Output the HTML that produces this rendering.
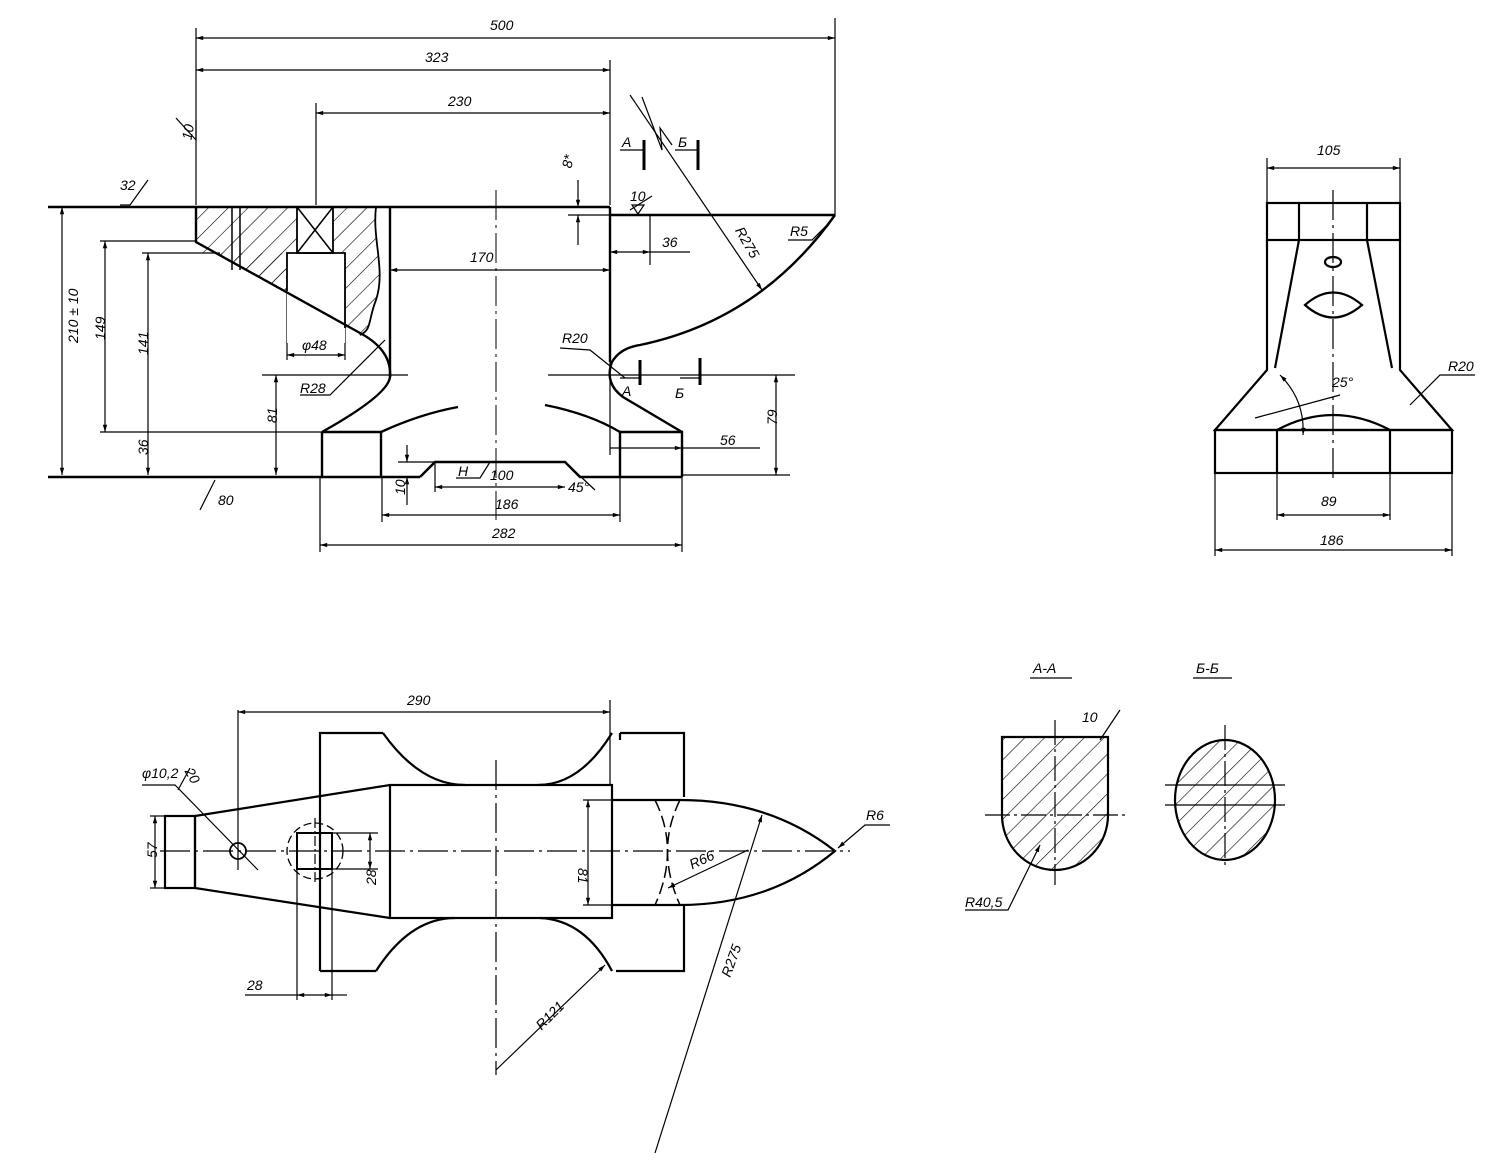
<!DOCTYPE html>
<html><head><meta charset="utf-8"><style>
html,body{margin:0;padding:0;background:#fff}
svg{display:block}
text{font-family:"Liberation Sans",sans-serif;font-style:italic;font-size:14px;fill:#000}
</style></head><body>
<svg width="1500" height="1163" viewBox="0 0 1500 1163" xmlns="http://www.w3.org/2000/svg">
<defs>
<pattern id="h" patternUnits="userSpaceOnUse" width="14" height="14" patternTransform="rotate(45)">
<line x1="0" y1="0" x2="0" y2="14" stroke="#000" stroke-width="1.2"/></pattern>
<marker id="a" viewBox="0 0 10 10" refX="10" refY="5" markerWidth="10" markerHeight="6" orient="auto-start-reverse"><path d="M0,2 L10,5 L0,8z" fill="#000"/></marker>
</defs>
<g fill="none" stroke="#000" stroke-width="1.2">
<!-- dimension lines front -->
<line x1="196" y1="38" x2="835" y2="38" marker-start="url(#a)" marker-end="url(#a)"/>
<line x1="196" y1="70" x2="610" y2="70" marker-start="url(#a)" marker-end="url(#a)"/>
<line x1="316" y1="113" x2="610" y2="113" marker-start="url(#a)" marker-end="url(#a)"/>
<line x1="196" y1="28" x2="196" y2="205"/><line x1="835" y1="18" x2="835" y2="215"/>
<line x1="610" y1="60" x2="610" y2="205"/><line x1="316" y1="103" x2="316" y2="205"/>
<line x1="390" y1="270" x2="610" y2="270" marker-start="url(#a)" marker-end="url(#a)"/>
<line x1="62" y1="207" x2="62" y2="475" marker-start="url(#a)" marker-end="url(#a)"/>
<line x1="105" y1="241" x2="105" y2="432" marker-start="url(#a)" marker-end="url(#a)"/>
<line x1="148" y1="253" x2="148" y2="475" marker-start="url(#a)" marker-end="url(#a)"/>
<line x1="100" y1="241" x2="196" y2="241"/><line x1="142" y1="253" x2="220" y2="253"/>
<line x1="100" y1="432" x2="322" y2="432"/>
<line x1="276" y1="375" x2="276" y2="475" marker-start="url(#a)" marker-end="url(#a)"/>
<line x1="262" y1="375" x2="408" y2="375"/>
<line x1="776" y1="375" x2="776" y2="475" marker-start="url(#a)" marker-end="url(#a)"/>
<line x1="548" y1="375" x2="795" y2="375"/><line x1="682" y1="475" x2="790" y2="475"/>
<line x1="610" y1="448" x2="682" y2="448" marker-end="url(#a)"/><line x1="682" y1="448" x2="760" y2="448"/>
<line x1="578" y1="180" x2="578" y2="207" marker-end="url(#a)"/><line x1="578" y1="245" x2="578" y2="215" marker-end="url(#a)"/>
<line x1="568" y1="215" x2="610" y2="215"/>
<line x1="650" y1="215" x2="650" y2="265"/><line x1="610" y1="252" x2="650" y2="252" marker-start="url(#a)" marker-end="url(#a)"/><line x1="650" y1="252" x2="690" y2="252"/>
<line x1="382" y1="515" x2="620" y2="515" marker-start="url(#a)" marker-end="url(#a)"/>
<line x1="320" y1="545" x2="682" y2="545" marker-start="url(#a)" marker-end="url(#a)"/>
<line x1="320" y1="477" x2="320" y2="552"/><line x1="682" y1="477" x2="682" y2="552"/>
<line x1="382" y1="477" x2="382" y2="522"/><line x1="620" y1="477" x2="620" y2="522"/>
<line x1="435" y1="487" x2="565" y2="487" marker-start="url(#a)" marker-end="url(#a)"/>
<line x1="435" y1="462" x2="435" y2="492"/>
<line x1="407" y1="445" x2="407" y2="462" marker-end="url(#a)"/><line x1="407" y1="505" x2="407" y2="477" marker-end="url(#a)"/>
<line x1="398" y1="462" x2="435" y2="462"/>
<line x1="287" y1="355" x2="345" y2="355" marker-start="url(#a)" marker-end="url(#a)"/>
<line x1="287" y1="253" x2="287" y2="360"/><line x1="345" y1="253" x2="345" y2="360"/>
<!-- leaders -->
<polyline points="120,205 130,205 148,180"/><polyline points="176,118 196,140 196,120"/>
<polyline points="200,510 215,480"/>
<polyline points="300,395 330,395 385,340" /><polyline points="560,348 590,350 625,378"/>
<polyline points="630,95 762,290" marker-end="url(#a)"/>
<polyline points="788,240 812,240 832,220"/>
<polyline points="630,210 652,196"/><path d="M632,205 L644,205 L638,214Z"/>
<polyline points="456,478 480,478 490,462"/>
<polyline points="565,462 595,490"/>
<!-- section marks -->
<polyline points="620,150 644,150"/><line x1="644" y1="140" x2="644" y2="170" stroke-width="3"/>
<polyline points="675,150 698,150"/><line x1="698" y1="140" x2="698" y2="170" stroke-width="3"/>
<polyline points="642,97 662,150 660,128 672,145"/>
<line x1="640" y1="360" x2="640" y2="385" stroke-width="3"/><line x1="620" y1="378" x2="640" y2="378"/>
<line x1="700" y1="358" x2="700" y2="385" stroke-width="3"/><line x1="680" y1="378" x2="700" y2="378"/>
</g>
<!-- front view body -->
<g fill="none" stroke="#000" stroke-width="2.4">
<path d="M196,207 L376,207 C372,240 386,270 376,300 C368,320 372,330 360,335 L196,242Z" fill="url(#h)" stroke="none"/>
<rect x="297" y="207" width="36" height="46" fill="#fff" stroke="none"/>
<rect x="287" y="253" width="58" height="90" fill="#fff" stroke="none"/>
<polygon points="196,242 287,291 287,253 196,253" fill="url(#h)" stroke="none"/>
<line x1="48" y1="207" x2="610" y2="207"/>
<line x1="610" y1="215" x2="835" y2="215"/>
<line x1="48" y1="477" x2="420" y2="477"/>
<polyline points="420,477 435,462 565,462 580,477 682,477"/>
<polyline points="196,207 196,242 360,333"/>
<path d="M360,333 Q392,350 390,377 Q388,395 322,432"/>
<line x1="390" y1="207" x2="390" y2="377"/>
<path d="M376,207 C372,240 386,270 376,300 C368,320 372,330 360,335" stroke-width="1.8"/>
<line x1="232" y1="207" x2="232" y2="270" stroke-width="1.5"/><line x1="240" y1="207" x2="240" y2="270" stroke-width="1.5"/>
<rect x="297" y="207" width="36" height="46" stroke-width="1.8"/>
<line x1="297" y1="207" x2="333" y2="253" stroke-width="1.5"/><line x1="333" y1="207" x2="297" y2="253" stroke-width="1.5"/>
<polyline points="287,291 287,253 345,253 345,328" stroke-width="1.8"/>
<polyline points="322,432 322,477"/><polyline points="322,432 381,432 381,477"/>
<path d="M381,432 Q420,414 458,407"/>
<path d="M545,405 Q590,414 620,432"/>
<line x1="610" y1="207" x2="610" y2="362"/>
<line x1="610" y1="362" x2="610" y2="455" stroke-width="1.2"/>
<polyline points="620,477 620,432 682,432 682,477"/>
<path d="M682,432 L623,397 Q604,383 612,362 Q620,348 640,345 Q760,320 835,215"/>
<line x1="496" y1="190" x2="496" y2="520" stroke-width="1" stroke-dasharray="30,5,3,5"/>
</g>
<!-- side view -->
<g fill="none" stroke="#000" stroke-width="2.2">
<rect x="1267" y="203" width="133" height="37"/>
<line x1="1299" y1="203" x2="1299" y2="240"/><line x1="1367" y1="203" x2="1367" y2="240"/>
<polyline points="1267,240 1267,370 1215,430 1452,430 1400,370 1400,240"/>
<line x1="1299" y1="240" x2="1275" y2="368"/><line x1="1367" y1="240" x2="1392" y2="368"/>
<rect x="1215" y="430" width="237" height="43"/>
<line x1="1277" y1="430" x2="1277" y2="473"/><line x1="1390" y1="430" x2="1390" y2="473"/>
<path d="M1277,430 Q1333,400 1390,430"/>
<ellipse cx="1333" cy="262" rx="8" ry="5"/>
<path d="M1305,305 Q1333,280 1362,305 Q1333,330 1305,305Z"/>
<g stroke-width="1.2">
<line x1="1333" y1="190" x2="1333" y2="480" stroke-dasharray="30,5,3,5"/>
<line x1="1267" y1="168" x2="1400" y2="168" marker-start="url(#a)" marker-end="url(#a)"/>
<line x1="1267" y1="158" x2="1267" y2="203"/><line x1="1400" y1="158" x2="1400" y2="203"/>
<line x1="1277" y1="515" x2="1390" y2="515" marker-start="url(#a)" marker-end="url(#a)"/>
<line x1="1215" y1="550" x2="1452" y2="550" marker-start="url(#a)" marker-end="url(#a)"/>
<line x1="1215" y1="473" x2="1215" y2="556"/><line x1="1452" y1="473" x2="1452" y2="556"/>
<line x1="1277" y1="473" x2="1277" y2="520"/><line x1="1390" y1="473" x2="1390" y2="520"/>
<path d="M1280,375 Q1305,400 1303,435" marker-start="url(#a)" marker-end="url(#a)"/>
<line x1="1255" y1="418" x2="1340" y2="395"/>
<polyline points="1410,405 1440,375 1475,375"/>
</g>
</g>
<!-- bottom view -->
<g fill="none" stroke="#000" stroke-width="2.2">
<polyline points="320,971 320,733 383,733"/><path d="M383,733 Q420,785 465,785"/>
<path d="M538,785 Q580,785 612,733"/><polyline points="620,733 684,733 684,797"/>
<line x1="620" y1="733" x2="620" y2="740"/>
<rect x="390" y="785" width="222" height="133"/>
<polyline points="390,785 195,816 195,888 390,918"/>
<rect x="165" y="816" width="30" height="72"/>
<polyline points="320,971 376,971"/><path d="M376,971 Q410,918 455,918"/>
<path d="M540,918 Q585,920 612,971"/><polyline points="616,971 684,971 684,905"/>
<polyline points="612,800 680,800"/><polyline points="612,905 680,905"/>
<path d="M680,800 Q770,800 835,851 Q770,905 680,905"/>
<path d="M680,800 Q655,850 680,905" stroke-dasharray="12,5" stroke-width="1.5"/>
<path d="M655,800 Q680,850 655,905" stroke-dasharray="12,5" stroke-width="1.5"/>
<rect x="297" y="833" width="35" height="36" stroke-width="2"/>
<circle cx="315" cy="851" r="28" stroke-dasharray="8,4" stroke-width="1.3"/>
<circle cx="238" cy="851" r="8" stroke-width="1.8"/>
<g stroke-width="1.2">
<line x1="160" y1="851" x2="850" y2="851" stroke-dasharray="30,5,3,5"/>
<line x1="496" y1="760" x2="496" y2="1075" stroke-dasharray="30,5,3,5"/>
<line x1="315" y1="818" x2="315" y2="885" stroke-dasharray="10,3,2,3"/>
<line x1="238" y1="710" x2="238" y2="870"/><line x1="610" y1="700" x2="610" y2="785"/>
<line x1="238" y1="712" x2="610" y2="712" marker-start="url(#a)" marker-end="url(#a)"/>
<line x1="155" y1="816" x2="155" y2="888" marker-start="url(#a)" marker-end="url(#a)"/>
<line x1="150" y1="816" x2="165" y2="816"/><line x1="150" y1="888" x2="165" y2="888"/>
<line x1="370" y1="833" x2="370" y2="869" marker-start="url(#a)" marker-end="url(#a)"/>
<line x1="332" y1="833" x2="378" y2="833"/><line x1="332" y1="869" x2="378" y2="869"/>
<line x1="297" y1="869" x2="297" y2="1000"/><line x1="332" y1="869" x2="332" y2="1000"/>
<line x1="245" y1="995" x2="297" y2="995"/><line x1="297" y1="995" x2="332" y2="995" marker-start="url(#a)" marker-end="url(#a)"/><line x1="332" y1="995" x2="347" y2="995"/>
<line x1="588" y1="800" x2="588" y2="905" marker-start="url(#a)" marker-end="url(#a)"/>
<line x1="583" y1="800" x2="612" y2="800"/><line x1="583" y1="905" x2="612" y2="905"/>
<line x1="748" y1="850" x2="668" y2="888" marker-end="url(#a)"/>
<line x1="655" y1="1153" x2="762" y2="815" marker-end="url(#a)"/>
<line x1="496" y1="1070" x2="605" y2="965" marker-end="url(#a)"/>
<polyline points="890,825 865,825 838,848" marker-end="url(#a)"/>
<polyline points="142,785 175,785 258,870"/><polyline points="190,768 178,790"/>
</g>
</g>
<!-- sections -->
<g fill="none" stroke="#000" stroke-width="2.2">
<path d="M1002,737 L1108,737 L1108,815 A53,55 0 0 1 1002,815Z" fill="url(#h)"/>
<ellipse cx="1225" cy="800" rx="50" ry="60" fill="url(#h)"/>
<g stroke-width="1.2">
<line x1="1055" y1="720" x2="1055" y2="885" stroke-dasharray="25,4,3,4"/>
<line x1="985" y1="815" x2="1125" y2="815" stroke-dasharray="25,4,3,4"/>
<line x1="1225" y1="725" x2="1225" y2="865" stroke-dasharray="25,4,3,4"/>
<line x1="1165" y1="785" x2="1285" y2="785"/><line x1="1165" y1="805" x2="1285" y2="805"/>
<polyline points="965,910 1008,910 1040,845" marker-end="url(#a)"/>
<polyline points="1120,710 1100,740"/>
<line x1="1030" y1="678" x2="1072" y2="678"/><line x1="1193" y1="678" x2="1232" y2="678"/>
</g>
</g>
<!-- labels -->
<text x="490" y="30">500</text><text x="425" y="62">323</text><text x="448" y="106">230</text>
<text x="470" y="262">170</text><text x="120" y="190">32</text><text x="170" y="145" transform="rotate(-80 178 130)">10</text>
<text x="55" y="360" transform="rotate(-90 58 340)">210 ± 10</text>
<text x="100" y="345" transform="rotate(-90 100 340)">149</text>
<text x="143" y="360" transform="rotate(-90 143 355)">141</text>
<text x="143" y="460" transform="rotate(-90 143 455)">36</text>
<text x="272" y="428" transform="rotate(-90 272 423)">81</text>
<text x="772" y="430" transform="rotate(-90 772 425)">79</text>
<text x="302" y="350">φ48</text><text x="300" y="393">R28</text><text x="562" y="343">R20</text>
<text x="560" y="165" transform="rotate(-80 568 160)">8*</text>
<text x="630" y="201" font-size="12">10</text><text x="662" y="247" font-size="11">36</text>
<text x="728" y="238" transform="rotate(60 738 240)">R275</text><text x="790" y="236" font-size="12">R5</text>
<text x="720" y="445">56</text><text x="458" y="476">H</text><text x="490" y="480">100</text>
<text x="568" y="492" font-size="10">45°</text><text x="495" y="509">186</text><text x="492" y="538">282</text>
<text x="218" y="505">80</text><text x="400" y="500" transform="rotate(-90 400 495)">10</text>
<text x="622" y="147">A</text><text x="678" y="147">Б</text><text x="622" y="396">A</text><text x="675" y="398">Б</text>
<text x="1317" y="155">105</text><text x="1332" y="387">25°</text><text x="1448" y="371">R20</text>
<text x="1321" y="506">89</text><text x="1320" y="545">186</text>
<text x="407" y="705">290</text><text x="142" y="778">φ10,2</text><text x="184" y="778" transform="rotate(60 190 775)">20</text>
<text x="150" y="865" transform="rotate(-90 150 858)">57</text>
<text x="368" y="893" transform="rotate(-90 368 885)">28</text><text x="247" y="990">28</text>
<text x="585" y="875" transform="rotate(90 585 868)">81</text>
<text x="690" y="870" transform="rotate(-25 690 865)">R66</text>
<text x="700" y="985" transform="rotate(-70 710 960)">R275</text>
<text x="535" y="1025" transform="rotate(-45 545 1020)">R121</text><text x="866" y="820">R6</text>
<text x="1033" y="673">A-A</text><text x="1196" y="673">Б-Б</text>
<text x="1082" y="722" font-size="11">10</text><text x="965" y="907" font-size="12">R40,5</text>
</svg>
</body></html>
